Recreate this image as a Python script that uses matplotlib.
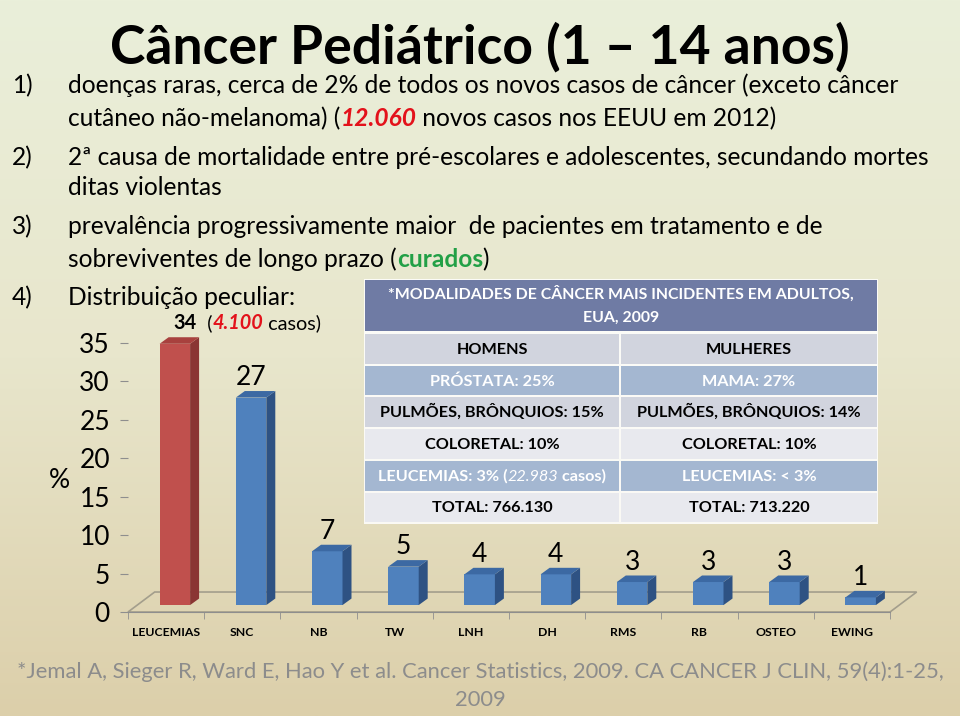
import numpy as np
import matplotlib
matplotlib.use('Agg')
import matplotlib.pyplot as plt
from matplotlib.patches import Rectangle, Polygon
from matplotlib.colors import LinearSegmentedColormap

############################################################################################
# data
categories = ['LEUCEMIAS', 'SNC', 'NB', 'TW', 'LNH', 'DH', 'RMS', 'RB', 'OSTEO', 'EWING']
percent    = [34, 27, 7, 5, 4, 4, 3, 3, 3, 1]
yticks     = [0, 5, 10, 15, 20, 25, 30, 35]

table_title = ['*MODALIDADES DE CÂNCER MAIS INCIDENTES EM ADULTOS,', 'EUA, 2009']
men   = ['HOMENS', 'PRÓSTATA: 25%', 'PULMÕES, BRÔNQUIOS: 15%', 'COLORETAL: 10%', 'LEUCEMIAS: 3% (22.983 casos)', 'TOTAL: 766.130']
women = ['MULHERES', 'MAMA: 27%', 'PULMÕES, BRÔNQUIOS: 14%', 'COLORETAL: 10%', 'LEUCEMIAS: < 3%', 'TOTAL: 713.220']

FONT  = ['Lato', 'DejaVu Sans']
RED   = '#E3121B'
GREEN = '#22A046'

############################################################################################
fig = plt.figure(figsize=(9.6, 7.16), dpi=100)
W, H = 960, 716

# background gradient (pale green on top -> tan at the bottom)
bg = fig.add_axes([0, 0, 1, 1], zorder=0)
cmap = LinearSegmentedColormap.from_list('slide', ['#EAEFDA', '#E8E6CC', '#DCCFAA'])
bg.imshow(np.linspace(0, 1, 256).reshape(-1, 1), aspect='auto', cmap=cmap, extent=[0, 1, 0, 1])
bg.axis('off')

# overlay in pixel coordinates (y downwards) for slide text and table
ov = fig.add_axes([0, 0, 1, 1], zorder=3)
ov.set_xlim(0, W)
ov.set_ylim(H, 0)
ov.axis('off')
ov.patch.set_alpha(0)

renderer = fig.canvas.get_renderer()

def fit_size(s, target, size0=20, **kw):
    """Font size that makes string s about target pixels wide."""
    t = ov.text(0, 0, s, fontsize=size0, family=FONT, **kw)
    w = t.get_window_extent(renderer).width
    t.remove()
    return size0 * target / w

def runs(x, y, parts, size, ha='left', color='black'):
    """Draw a row of differently styled text pieces next to each other."""
    texts = []
    for s, kw in parts:
        kw = dict(kw)
        kw.setdefault('color', color)
        t = ov.text(0, y, s, fontsize=size, va='baseline', family=FONT, **kw)
        texts.append(t)
    widths = [t.get_window_extent(renderer).width for t in texts]
    if ha == 'center': x -= sum(widths) / 2
    for t, w in zip(texts, widths):
        t.set_x(x)
        x += w

############################################################################################
# title and bullet items
TITLE = 'Câncer Pediátrico (1 – 14 anos)'
ov.text(480, 64, TITLE, fontsize=fit_size(TITLE, 740, fontweight='bold'), fontweight='bold',
        ha='center', va='baseline', family=FONT)

BODY = fit_size('2ª causa de mortalidade entre pré-escolares e adolescentes, secundando mortes', 864)
num_x, txt_x = 12, 68
for num, base in [('1)', 93), ('2)', 165), ('3)', 234), ('4)', 305)]:
    ov.text(num_x, base, num, fontsize=BODY, va='baseline', family=FONT)

runs(txt_x, 93,  [('doenças raras, cerca de 2% de todos os novos casos de câncer (exceto câncer', {})], BODY)
runs(txt_x, 126, [('cutâneo não-melanoma) (', {}), ('12.060', dict(color=RED, fontweight='bold', style='italic')),
                  (' novos casos nos EEUU em 2012)', {})], BODY)
runs(txt_x, 165, [('2ª causa de mortalidade entre pré-escolares e adolescentes, secundando mortes', {})], BODY)
runs(txt_x, 195, [('ditas violentas', {})], BODY)
runs(txt_x, 234, [('prevalência progressivamente maior  de pacientes em tratamento e de', {})], BODY)
runs(txt_x, 267, [('sobreviventes de longo prazo (', {}), ('curados', dict(color=GREEN, fontweight='bold')), (')', {})], BODY)
runs(txt_x, 305, [('Distribuição peculiar:', {})], BODY)

############################################################################################
# table of adult cancers
TAB = fit_size('PULMÕES, BRÔNQUIOS: 15%', 224, fontweight='bold')
HEAD = fit_size(table_title[0], 467, fontweight='bold')
tx0, tx1, tsplit = 364, 878, 620
ov.add_patch(Rectangle((tx0, 279), tx1 - tx0, 245, facecolor='white', edgecolor='none', alpha=0.85))
ov.add_patch(Rectangle((tx0 + 1, 280), tx1 - tx0 - 2, 51, facecolor='#6F7BA4', edgecolor='none'))
ov.text((tx0 + tx1) / 2, 294, table_title[0], fontsize=HEAD, fontweight='bold', color='white', ha='center', va='center', family=FONT)
ov.text((tx0 + tx1) / 2, 318, table_title[1], fontsize=HEAD, fontweight='bold', color='white', ha='center', va='center', family=FONT)

row_colors = ['#D1D4DE', '#A4B7D1', '#D1D4DE', '#E8E9EE', '#A4B7D1', '#E8E9EE']
row_text   = ['black', 'white', 'black', 'black', 'white', 'black']
row_top, row_h = 333, 31.7
for r in range(6):
    y0 = row_top + r * row_h
    for cx0, cx1 in [(tx0 + 1, tsplit - 1), (tsplit + 1, tx1 - 1)]:
        ov.add_patch(Rectangle((cx0, y0 + 1), cx1 - cx0, row_h - 2, facecolor=row_colors[r], edgecolor='none'))
    yb = y0 + row_h / 2 + 5
    if r == 4:
        runs((tx0 + tsplit) / 2, yb, [('LEUCEMIAS: 3% (', dict(fontweight='bold')), ('22.983', dict(style='italic')),
                                      (' casos)', dict(fontweight='bold'))], TAB, ha='center', color='white')
    else:
        ov.text((tx0 + tsplit) / 2, yb, men[r], fontsize=TAB, fontweight='bold', color=row_text[r], ha='center', va='baseline', family=FONT)
    ov.text((tsplit + tx1) / 2, yb, women[r], fontsize=TAB, fontweight='bold', color=row_text[r], ha='center', va='baseline', family=FONT)

############################################################################################
# 3D looking bar chart
ax = fig.add_axes([128 / W, (H - 612) / H, 762 / W, 269 / H], zorder=2)
ax.patch.set_alpha(0)
x = np.arange(len(categories))
ax.set_xlim(-0.5, len(categories) - 0.5)
ax.set_ylim(0, 35)

off, bw, base = 0.115, 0.40, 0.9      # bar offset in floor depth
dx, dy = 0.118, 0.85                   # depth of each bar
fdx, fdy = 0.35, 2.6                   # depth of the floor
ax.add_patch(Polygon([(-0.5, 0), (9.5, 0), (9.5 + fdx, fdy), (-0.5 + fdx, fdy)], closed=True,
                     facecolor='none', edgecolor='#A39E8C', lw=1.2, clip_on=False, zorder=1))

front = ['#C0504D'] + ['#4F81BD'] * 9
side  = ['#8A3533'] + ['#2E5283'] * 9
top   = ['#A8413E'] + ['#3C69A3'] * 9
ax.bar(x + off, percent, bw, bottom=base, color=front, zorder=3, clip_on=False)
NUM = 19
for i, v in enumerate(percent):
    xr, xl, yt = i + off + bw / 2, i + off - bw / 2, base + v
    ax.add_patch(Polygon([(xr, base), (xr + dx, base + dy), (xr + dx, yt + dy), (xr, yt)], closed=True,
                         facecolor=side[i], edgecolor='none', zorder=3, clip_on=False))
    ax.add_patch(Polygon([(xl, yt), (xl + dx, yt + dy), (xr + dx, yt + dy), (xr, yt)], closed=True,
                         facecolor=top[i], edgecolor='none', zorder=3, clip_on=False))
    if i == 0: continue
    ax.text(i + off, yt + 2.6, str(v), fontsize=NUM, ha='center', va='center', family=FONT, clip_on=False)

# first label with case count
fig.canvas.draw()
px, py = ax.transData.transform((0 + off - 0.02, base + percent[0] + 1.9))
LAB = fit_size('34  (4.100 casos)', 147)
runs(px, H - py, [('34', dict(fontweight='bold')), ('  (', {}), ('4.100', dict(color=RED, fontweight='bold', style='italic')),
                  (' casos)', {})], LAB)

CAT = fit_size('LEUCEMIAS', 68, fontweight='bold')
ax.set_yticks(yticks)
ax.set_yticklabels([str(t) for t in yticks], family=FONT, fontsize=NUM)
ax.set_xticks(x)
ax.set_xticklabels(categories, family=FONT, fontsize=CAT, fontweight='bold')
ax.set_xticks(np.arange(-0.5, len(categories)), minor=True)
ax.tick_params(axis='x', which='major', length=0, pad=11)
ax.tick_params(axis='x', which='minor', length=5, color='#8E8E8E', direction='out')
ax.tick_params(axis='y', length=6, color='#8E8E8E', pad=7)
for s in ['top', 'right', 'left']: ax.spines[s].set_visible(False)
ax.spines['bottom'].set_color('#8E8E8E')
ax.set_ylabel('%', fontsize=NUM, rotation=0, family=FONT, va='center')
ax.yaxis.set_label_coords(-0.09, 0.49)

############################################################################################
# reference footnote
FOOT = '*Jemal A, Sieger R, Ward E, Hao Y et al. Cancer Statistics, 2009. CA CANCER J CLIN, 59(4):1-25,'
FS = fit_size(FOOT, 932)
ov.text(480, 672, FOOT, fontsize=FS, color='#8C8C8C', ha='center', va='center', family=FONT)
ov.text(480, 700, '2009', fontsize=FS, color='#8C8C8C', ha='center', va='center', family=FONT)

fig.savefig('out.png', dpi=100)
